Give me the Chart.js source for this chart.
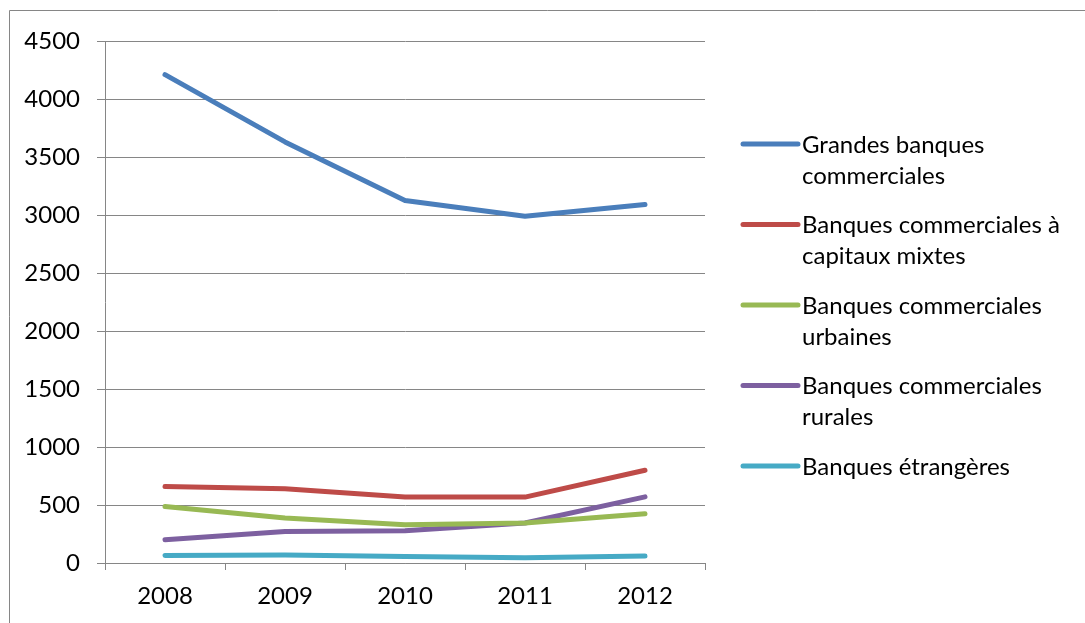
<!DOCTYPE html>
<html>
<head>
<meta charset="utf-8">
<script src="https://cdn.jsdelivr.net/npm/chart.js@4/dist/chart.umd.min.js"></script>
<style>
  html, body { margin: 0; padding: 0; background: #fff; }
  #wrap { width: 1085px; height: 623px; position: relative; }
</style>
</head>
<body>
<div id="wrap"><canvas id="chart"></canvas></div>
<script>
const years = ['2008', '2009', '2010', '2011', '2012'];
const grandes = [4210, 3630, 3125, 2990, 3090];
const mixtes = [660, 640, 568, 568, 800];
const urbaines = [488, 388, 330, 345, 425];
const rurales = [200, 272, 278, 345, 570];
const etrangeres = [65, 68, 55, 45, 60];
const yTicks = [0, 500, 1000, 1500, 2000, 2500, 3000, 3500, 4000, 4500];

const FONT = 'Lato, "Open Sans", sans-serif';
const FSIZE = 24;
const GRID = '#868686';

// legend labels wrap on two lines like the original
const legendLines = [
  ['Grandes banques', 'commerciales'],
  ['Banques commerciales à', 'capitaux mixtes'],
  ['Banques commerciales', 'urbaines'],
  ['Banques commerciales', 'rurales'],
  ['Banques étrangères']
];

const frame = {
  id: 'frame',
  beforeDraw(chart) {
    const ctx = chart.ctx;
    ctx.save();
    ctx.strokeStyle = GRID;
    ctx.lineWidth = 1;
    ctx.beginPath();
    ctx.moveTo(9.5, chart.height);
    ctx.lineTo(9.5, 10.5);
    ctx.lineTo(chart.width, 10.5);
    ctx.stroke();
    ctx.restore();
  }
};

const sideLegend = {
  id: 'sideLegend',
  afterDraw(chart) {
    const ctx = chart.ctx;
    const x0 = chart.chartArea.right + 38;
    let y = 144;
    ctx.save();
    ctx.font = FSIZE + 'px ' + FONT;
    ctx.textBaseline = 'middle';
    ctx.fillStyle = '#000';
    chart.data.datasets.forEach((ds, i) => {
      ctx.strokeStyle = ds.borderColor;
      ctx.lineWidth = 5;
      ctx.lineCap = 'round';
      ctx.beginPath();
      ctx.moveTo(x0, y);
      ctx.lineTo(x0 + 55, y);
      ctx.stroke();
      legendLines[i].forEach((t, j) => ctx.fillText(t, x0 + 59, y + 1 + j * 31));
      y += 80.5;
    });
    ctx.restore();
  }
};

function series(label, data, color) {
  return {
    label, data,
    borderColor: color,
    backgroundColor: color,
    borderWidth: 5,
    borderCapStyle: 'round',
    borderJoinStyle: 'round',
    pointRadius: 0,
    tension: 0
  };
}

new Chart(document.getElementById('chart'), {
  type: 'line',
  data: {
    labels: years,
    datasets: [
      series('Grandes banques commerciales', grandes, '#4A7EBB'),
      series('Banques commerciales à capitaux mixtes', mixtes, '#BE4B48'),
      series('Banques commerciales urbaines', urbaines, '#98B954'),
      series('Banques commerciales rurales', rurales, '#7D60A0'),
      series('Banques étrangères', etrangeres, '#46AAC5')
    ]
  },
  options: {
    responsive: true,
    maintainAspectRatio: false,
    animation: false,
    layout: { padding: { top: 41, right: 380, bottom: 0, left: 0 } },
    plugins: {
      legend: { display: false },
      tooltip: { enabled: false }
    },
    scales: {
      x: {
        offset: true,
        afterFit(scale) { scale.height = 60; },
        grid: {
          offset: true,
          drawOnChartArea: false,
          drawTicks: true,
          tickLength: 7,
          color: GRID
        },
        border: { color: GRID, width: 1 },
        ticks: { color: '#000', font: { family: FONT, size: FSIZE }, padding: 12, maxRotation: 0 }
      },
      y: {
        min: 0,
        max: 4500,
        afterFit(scale) { scale.width = 105; },
        afterBuildTicks(scale) { scale.ticks = yTicks.map(v => ({ value: v })); },
        grid: { color: GRID, tickLength: 8, lineWidth: 1 },
        border: { color: GRID, width: 1 },
        ticks: {
          color: '#000',
          font: { family: FONT, size: FSIZE },
          padding: 17,
          callback: v => String(v)
        }
      }
    }
  },
  plugins: [frame, sideLegend]
});
</script>
</body>
</html>
